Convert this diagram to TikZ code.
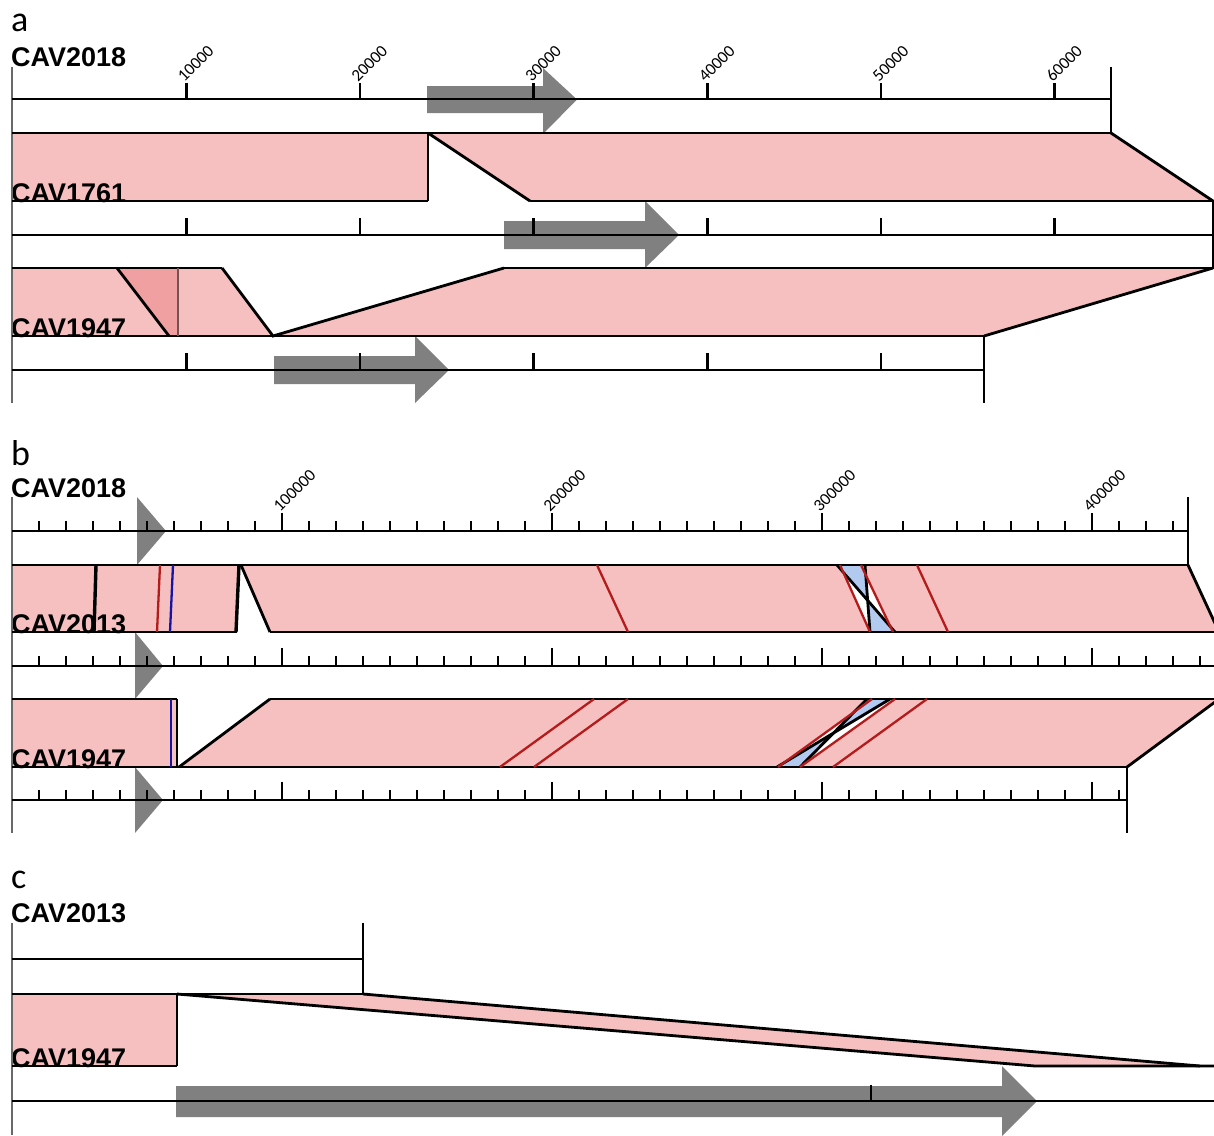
\documentclass[tikz,border=0pt]{standalone}
\usepackage{fontspec}
\setmainfont{Liberation Sans}
\newfontfamily\carl{Carlito}
\definecolor{pinkc}{RGB}{246,192,193}
\definecolor{darkpinkc}{RGB}{241,160,162}
\definecolor{bluefillc}{RGB}{178,202,240}
\definecolor{redc}{RGB}{180,28,28}
\definecolor{bluelc}{RGB}{20,20,165}
\definecolor{genec}{RGB}{128,128,128}
\definecolor{leftc}{RGB}{105,105,105}
\definecolor{seamc}{RGB}{120,80,80}
\tikzset{
  pinkarea/.style={fill=pinkc, draw=none},
  darkarea/.style={fill=darkpinkc, draw=none},
  bluearea/.style={fill=bluefillc, draw=none},
  genearrow/.style={fill=genec, draw=none},
  edge/.style={line width=2.8pt, black},
  thickedge/.style={line width=3.4pt, black},
  redline/.style={line width=2.3pt, redc},
  blueline/.style={line width=2.3pt, bluelc},
  leftline/.style={line width=1.8pt, leftc},
  seqlab/.style={font=\bfseries\fontsize{27}{27}\selectfont, anchor=base west, inner sep=0pt},
  panlab/.style={font=\carl\fontsize{36}{36}\selectfont, anchor=base west, inner sep=0pt},
  ticklab/.style={font=\carl\fontsize{17}{17}\selectfont, anchor=base west, inner sep=0pt, rotate=45}
}
\begin{document}
\begin{tikzpicture}[x=1pt,y=-1pt]
\useasboundingbox (0,0) rectangle (1214,1135);
\clip (0,0) rectangle (1214,1135);
%================ PANEL A =================
\fill[pinkarea] (12,133) -- (428,133) -- (428,201) -- (12,201) -- cycle;
\fill[pinkarea] (428,133) -- (1111,133) -- (1213,201) -- (530,201) -- cycle;
\fill[pinkarea] (12,268) -- (222,268) -- (273,336) -- (12,336) -- cycle;
\fill[darkarea] (117,268) -- (178,268) -- (178,336) -- (169,336) -- cycle;
\fill[pinkarea] (273,336) -- (504,268) -- (1214,268) -- (984,336) -- cycle;
\node[panlab] (la) at (11,31) {a};
\node[seqlab] (a2018) at (11,66) {CAV2018};
\node[seqlab] (a1761) at (11,202) {CAV1761};
\node[seqlab] (a1947) at (11,337) {CAV1947};
\fill[genearrow] (427,86) -- (543,86) -- (543,68) -- (577,99.5) -- (543,134) -- (543,113) -- (427,113) -- cycle;
\fill[genearrow] (504,221) -- (645,221) -- (645,201) -- (679,235) -- (645,268) -- (645,249) -- (504,249) -- cycle;
\fill[genearrow] (274,356) -- (415,356) -- (415,336) -- (449,370) -- (415,403) -- (415,384) -- (274,384) -- cycle;
\draw[leftline] (12,67) -- (12,403);
\draw[edge] (12,99) -- (1111,99);
\draw[edge] (12,235) -- (1213,235);
\draw[edge] (12,370) -- (984,370);
\foreach \k in {1,...,6} {
  \draw[edge] ({12.5+173.7*\k},83) -- ({12.5+173.7*\k},99);
  \draw[edge] ({12.5+173.7*\k},218) -- ({12.5+173.7*\k},235);
}
\foreach \k in {1,...,5} {
  \draw[edge] ({12.5+173.7*\k},353) -- ({12.5+173.7*\k},370);
}
\foreach \k in {1,...,6} {
  \node[ticklab] (ta\k) at ({12.5+173.7*\k-2},83) {\k0000};
}
\draw[edge] (1111,67) -- (1111,133);
\draw[edge] (1213,201) -- (1213,268);
\draw[edge] (984,336) -- (984,403);
\draw[edge] (12,133) -- (1111,133);
\draw[edge] (12,201) -- (428,201);
\draw[edge] (530,201) -- (1214,201);
\draw[edge] (428,133) -- (428,201);
\draw[edge] (428,133) -- (530,201);
\draw[edge] (1111,133) -- (1213,201);
\draw[edge] (12,268) -- (222,268);
\draw[edge] (504,268) -- (1214,268);
\draw[edge] (12,336) -- (984,336);
\draw[edge] (117,268) -- (169,336);
\draw[line width=1.8pt, seamc] (178,268) -- (178,336);
\draw[edge] (222,268) -- (273,336) -- (504,268);
\draw[edge] (1213,268) -- (984,336);
%================ PANEL B =================
\fill[pinkarea] (12,565) -- (96,565) -- (94,632) -- (12,632) -- cycle;
\fill[pinkarea] (96,565) -- (239,565) -- (236,632) -- (94,632) -- cycle;
\fill[pinkarea] (241,565) -- (840,565) -- (870,632) -- (270,632) -- cycle;
\fill[pinkarea] (861,565) -- (1188,565) -- (1219,632) -- (893,632) -- cycle;
\fill[bluearea] (840,565) -- (865,565) -- (870,632) -- (893,632) -- cycle;
\fill[pinkarea] (12,699) -- (177,699) -- (177,767) -- (12,767) -- cycle;
\fill[pinkarea] (179,767) -- (270,699) -- (872,699) -- (778,767) -- cycle;
\fill[pinkarea] (895,699) -- (1219,699) -- (1127,767) -- (800,767) -- cycle;
\fill[bluearea] (870,699) -- (893,699) -- (778,767) -- (800,767) -- cycle;
\node[panlab] (lb) at (11,465) {b};
\node[seqlab] (b2018) at (11,497) {CAV2018};
\node[seqlab] (b2013) at (11,633) {CAV2013};
\node[seqlab] (b1947) at (11,768) {CAV1947};
\fill[genearrow] (137,497) -- (166,531) -- (137,565) -- cycle;
\fill[genearrow] (135,632) -- (163,666) -- (135,699) -- cycle;
\fill[genearrow] (135,767) -- (163,800) -- (135,833) -- cycle;
\draw[leftline] (12,497) -- (12,833);
\draw[edge] (12,531) -- (1188,531);
\draw[edge] (12,666) -- (1214,666);
\draw[edge] (12,800) -- (1127,800);
\foreach \k in {1,...,43} {
  \pgfmathsetmacro{\th}{ifthenelse(mod(\k,10)==0,18,10)}
  \draw[edge] ({12+27*\k},531) -- ({12+27*\k},531-\th);
}
\foreach \k in {1,...,44} {
  \pgfmathsetmacro{\th}{ifthenelse(mod(\k,10)==0,18,10)}
  \draw[edge] ({12+27*\k},666) -- ({12+27*\k},666-\th);
}
\foreach \k in {1,...,41} {
  \pgfmathsetmacro{\th}{ifthenelse(mod(\k,10)==0,18,10)}
  \draw[edge] ({12+27*\k},800) -- ({12+27*\k},800-\th);
}
\foreach \k in {1,...,4} {
  \node[ticklab] (tb\k) at ({12+270*\k-2},513) {\k00000};
}
\draw[edge] (1188,497) -- (1188,565);
\draw[edge] (1127,767) -- (1127,833);
\draw[edge] (12,565) -- (1188,565);
\draw[edge] (12,632) -- (237,632);
\draw[edge] (270,632) -- (1214,632);
\draw[thickedge] (96,565) -- (94,632);
\draw[redline] (160,565) -- (157,632);
\draw[blueline] (173,565) -- (170,632);
\draw[thickedge] (239,565) -- (236,632);
\draw[edge] (241,565) -- (270,632);
\draw[redline] (597,565) -- (628,632);
\draw[edge] (837,565) -- (895,632);
\draw[edge] (865,565) -- (870,632);
\draw[redline] (840,565) -- (870,632);
\draw[redline] (861,565) -- (893,632);
\draw[redline] (917,565) -- (948,632);
\draw[edge] (1188,565) -- (1219,632);
\draw[edge] (12,699) -- (177,699);
\draw[edge] (270,699) -- (1214,699);
\draw[edge] (12,767) -- (1127,767);
\draw[blueline] (171,699) -- (171,767);
\draw[edge] (177,699) -- (177,767);
\draw[edge] (179,767) -- (270,699);
\draw[redline] (594,699) -- (500,767);
\draw[redline] (628,699) -- (534,767);
\draw[edge] (867,699) -- (800,767);
\draw[edge] (890,699) -- (777,767);
\draw[redline] (872,699) -- (778,767);
\draw[redline] (895,699) -- (800,767);
\draw[redline] (927,699) -- (833,767);
\draw[edge] (1219,699) -- (1127,767);
%================ PANEL C =================
\fill[pinkarea] (12,994) -- (177,994) -- (177,1066) -- (12,1066) -- cycle;
\fill[pinkarea] (177,994) -- (363,994) -- (1200,1066) -- (1035,1066) -- cycle;
\node[panlab] (lc) at (11,888) {c};
\node[seqlab] (c2013) at (11,922) {CAV2013};
\node[seqlab] (c1947) at (11,1067) {CAV1947};
\fill[genearrow] (176,1086) -- (1002,1086) -- (1002,1066) -- (1037,1101) -- (1002,1136) -- (1002,1117) -- (176,1117) -- cycle;
\draw[leftline] (12,923) -- (12,1135);
\draw[edge] (12,959) -- (363,959);
\draw[edge] (363,923) -- (363,994);
\draw[edge] (12,994) -- (363,994);
\draw[edge] (177,994) -- (177,1066);
\draw[edge] (12,1066) -- (177,1066);
\draw[edge] (177,994) -- (1035,1066) -- (1214,1066);
\draw[edge] (363,994) -- (1200,1066);
\draw[edge] (12,1101) -- (1214,1101);
\draw[edge] (871,1085) -- (871,1101);
\end{tikzpicture}
\end{document}
